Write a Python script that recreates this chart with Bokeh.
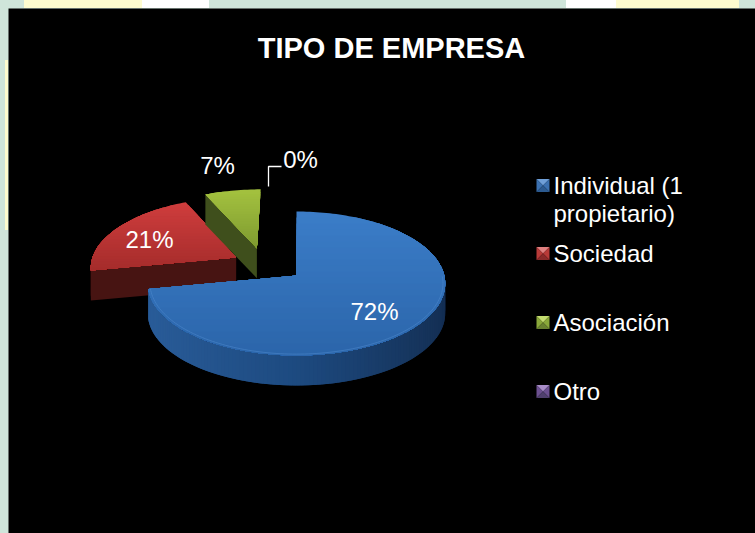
import numpy as np
from bokeh.plotting import figure
from bokeh.models import Range1d
from bokeh.core.properties import value
from bokeh.embed import file_html
from bokeh.resources import INLINE

# ---- data ----
TITLE = "TIPO DE EMPRESA"
categories = ["Individual (1\npropietario)", "Sociedad", "Asociación", "Otro"]
values = [72, 21, 7, 0]
labels = ["72%", "21%", "7%", "0%"]

# ---- style ----
FONT = value("Liberation Sans")
top_hi = ["#3b7dc8", "#cf3d3d", "#a4c23f", "#8064a2"]
top_lo = ["#2b65aa", "#a52c2b", "#7e9a30", "#5f4a80"]
wall_col = ["#1d4a80", "#471412", "#3f4f1c", "#3a2a50"]
marker_hi = ["#6f9fd8", "#e08080", "#c4dc70", "#a88cc8"]
marker_mid = ["#3b70b0", "#b83a38", "#8aa83a", "#6c5090"]
marker_lo = ["#2c5a90", "#8a2a2a", "#6a8230", "#50406e"]
label_pos = [(374, 311), (149, 239), (217, 165), (300, 159)]
legend_rows = [185, 253, 322, 391]
# exploded offsets in disc units (u to the right, v towards the viewer)
explode = [(0.0, 0.0), (-0.42, -0.26), (-0.28, -0.40), (0.0, 0.0)]

CX, CY, R, S, K, D = 296.0, 275.0, 147.8, 71.1, 0.111, 30.0


def project(u, v, drop=0.0):
    w = 1 - K * v
    return CX + R * u / w, CY + S * v / w + drop * D


def clip_band(pts, y0):
    out = []
    for i in range(len(pts)):
        a, b = pts[i], pts[(i + 1) % len(pts)]
        if a[1] >= y0:
            out.append(a)
        if (a[1] >= y0) != (b[1] >= y0):
            t = (y0 - a[1]) / (b[1] - a[1])
            out.append((a[0] + t * (b[0] - a[0]), y0))
    return out


def mix(c1, c2, t):
    a = [int(c1[i:i + 2], 16) for i in (1, 3, 5)]
    b = [int(c2[i:i + 2], 16) for i in (1, 3, 5)]
    t = min(max(t, 0), 1)
    return "#%02x%02x%02x" % tuple(int(round(x + (y - x) * t)) for x, y in zip(a, b))


p = figure(width=747, height=525, output_backend="svg", toolbar_location=None,
           x_range=Range1d(8, 755), y_range=Range1d(533, 8),
           background_fill_color="#000000", border_fill_color="#000000",
           min_border=0, outline_line_color=None)
p.axis.visible = False
p.grid.visible = False

fractions = np.array(values, dtype=float) / sum(values)
edges = np.concatenate([[0], np.cumsum(fractions)]) * 2 * np.pi


def wall_colour(i, angle):
    shade = np.sin(angle)
    base = wall_col[i]
    if i == 0:
        if shade > 0:
            return mix(base, "#12294a", 0.85 * shade)
        return mix(base, "#2c609e", 0.85 * (-shade))
    return base


def draw_slice(i):
    if values[i] == 0:
        return
    a0, a1 = edges[i], edges[i + 1]
    du, dv = explode[i]
    th = np.linspace(a0, a1, max(int((a1 - a0) * 40), 2) + 1)
    us, vs = np.sin(th) + du, -np.cos(th) + dv

    # outer wall: overlapping quads painted in order, so no seams appear
    xs, ys, cs = [], [], []
    for j in range(len(th) - 1):
        mid = (th[j] + th[j + 1]) / 2
        if -np.cos(mid) < -0.05:
            continue
        e = min(j + 2, len(th) - 1)
        a = project(us[j], vs[j]); b = project(us[e], vs[e])
        c = project(us[e], vs[e], 1); d = project(us[j], vs[j], 1)
        xs.append([a[0], b[0], c[0], d[0]])
        ys.append([a[1], b[1], c[1], d[1]])
        cs.append(wall_colour(i, mid))
    if i > 0:
        v0 = project(du, dv); v1 = project(du, dv, 1)
        e0 = project(us[0], vs[0]); e1 = project(us[0], vs[0], 1)
        xs.append([e0[0], v0[0], v1[0], e1[0]])
        ys.append([e0[1], v0[1], v1[1], e1[1]])
        cs.append(wall_col[i])
    p.patches(xs, ys, fill_color=cs, line_color=None)

    # top surface: each band reaches to the slice's lower end and is painted over by the next
    poly = [project(du, dv)] + [project(u, v) for u, v in zip(us, vs)]
    ptsy = [q[1] for q in poly]
    ymin, ymax = min(ptsy), max(ptsy)
    n = 24
    bx, by, bc = [], [], []
    for k in range(n):
        band = clip_band(poly, ymin + (ymax - ymin) * k / n)
        if len(band) >= 3:
            bx.append([q[0] for q in band])
            by.append([q[1] for q in band])
            bc.append(mix(top_hi[i], top_lo[i], (k + .5) / n))
    p.patches(bx, by, fill_color=bc, line_color=None)

    # pale bevel along the front rim of the big slice
    if i == 0:
        mask = -np.cos(th) > 0.0
        rim = [project(u * 0.985, v * 0.985) for u, v in zip(us[mask], vs[mask])]
        p.line([q[0] for q in rim], [q[1] for q in rim], line_color="#4f8ccf",
               line_width=1, line_alpha=0.5)


for i in (1, 2, 0, 3):
    draw_slice(i)

# data labels
for lab, (x, y) in zip(labels, label_pos):
    p.text([x], [y], text=[lab], text_font=FONT, text_font_size="24px", text_color="#ffffff",
           text_align="center", text_baseline="middle")

# leader line of the 0% label
p.line([268, 268, 281], [186, 166, 166], line_color="#ffffff", line_width=1.3)

# title
p.text([391], [47], text=[TITLE], text_font=FONT, text_font_style="bold", text_font_size="29px",
       text_color="#ffffff", text_align="center", text_baseline="middle")

# legend
for i, (cat, row) in enumerate(zip(categories, legend_rows)):
    x0, x1, y0, y1 = 536.0, 549.0, row - 6.5, row + 6.5
    cx, cy = (x0 + x1) / 2, (y0 + y1) / 2
    p.patches([[x0, x1, cx], [x0, cx, x0], [x1, cx, x1], [x0, x1, cx]],
              [[y0, y0, cy], [y0, cy, y1], [y0, cy, y1], [y1, y1, cy]],
              fill_color=[marker_hi[i], marker_mid[i], marker_mid[i], marker_lo[i]],
              line_color=None)
    for j, line in enumerate(cat.split("\n")):
        p.text([553], [row + j * 28], text=[line], text_font=FONT, text_font_size="24px",
               text_color="#ffffff", text_align="left", text_baseline="middle")

html = file_html(p, INLINE)
style = ("<style>html{overflow:hidden;background:"
         "linear-gradient(to right,#cfe5da 24px,#fefccf 24px,#fefccf 142px,#ffffff 142px,#ffffff 209px,"
         "#cfe5da 209px,#cfe5da 566px,#ffffff 566px,#ffffff 616px,#fefccf 616px,#fefccf 739px,#cfe5da 739px)"
         " 0 0/100% 8px no-repeat,"
         "linear-gradient(#fefccf,#fefccf) 5px 60px/3px 170px no-repeat,#cfe5da}"
         "body{background:transparent;margin:8px 0 0 8px;padding:0;height:auto}</style>")
html = html.replace("</head>", style + "</head>")
open("out.html", "w").write(html)
